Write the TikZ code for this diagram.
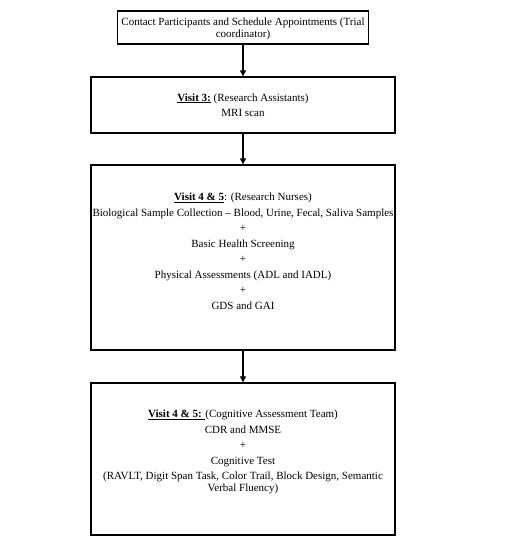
\documentclass[tikz,border=0pt]{standalone}
\usepackage{fontspec}
\setmainfont{Liberation Serif}
\usetikzlibrary{arrows.meta}
\begin{document}
\begin{tikzpicture}[x=1pt,y=-1pt,
  boxstyle/.style={draw=black,line width=1.3pt,rectangle,inner sep=0pt},
  txt/.style={align=center,font=\fontsize{11}{11.5}\selectfont,inner sep=0pt},
  conn/.style={line width=1.2pt,-{Triangle[length=6pt,width=6pt]}}]
\useasboundingbox (0,0) rectangle (521,550);
\node[boxstyle,minimum width=251pt,minimum height=33pt] (b1) at (243,27.5) {};
\node[boxstyle,minimum width=304pt,minimum height=56pt] (b2) at (243,105) {};
\node[boxstyle,minimum width=304pt,minimum height=185pt] (b3) at (243,257.5) {};
\node[boxstyle,minimum width=304pt,minimum height=152pt] (b4) at (243,459) {};
\node[txt] (t1) at (243,29) {Contact Participants and Schedule Appointments (Trial\\coordinator)};
\node[txt] (t2) at (243,105) {\underline{\textbf{Visit 3:}} (Research Assistants)\\[4pt]MRI scan};
\node[txt] (t3) at (243,251) {\underline{\textbf{Visit 4 \& 5}}: (Research Nurses)\\[4pt]
Biological Sample Collection -- Blood, Urine, Fecal, Saliva Samples\\[4pt]
+\\[4pt] Basic Health Screening\\[4pt] +\\[4pt] Physical Assessments (ADL and IADL)\\[4pt] +\\[4pt] GDS and GAI};
\node[txt] (t4) at (243,452) {\underline{\textbf{Visit 4 \& 5: }}(Cognitive Assessment Team)\\[4pt]
CDR and MMSE\\[4pt] +\\[4pt] Cognitive Test\\[4pt]
(RAVLT, Digit Span Task, Color Trail, Block Design, Semantic\\ Verbal Fluency)};
\draw[conn] (b1.south) -- (b2.north);
\draw[conn] (b2.south) -- (b3.north);
\draw[conn] (b3.south) -- (b4.north);
\end{tikzpicture}
\end{document}
